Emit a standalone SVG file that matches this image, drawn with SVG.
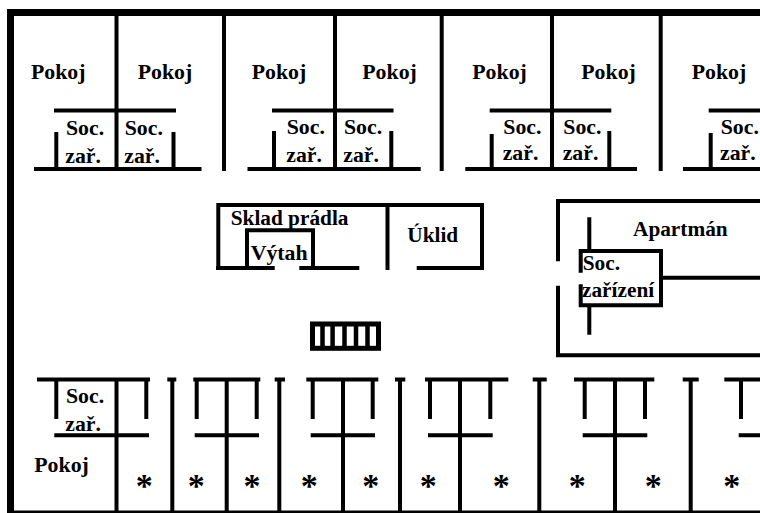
<svg xmlns="http://www.w3.org/2000/svg" width="760" height="513" viewBox="0 0 760 513">
<style>
text{font-family:"Liberation Serif","Times New Roman",serif;font-weight:bold;font-size:21.8px;fill:#000}
.n{font-size:21.300px}
.a{font-size:34px;text-anchor:middle}
path{fill:none;stroke:#000;stroke-width:4}
.o{stroke-width:7}
.b{stroke-width:2.500}
.s{stroke-width:4.500}
</style>
<rect width="760" height="513" fill="#fff"/>
<path class="o" d="M760 12.500H10.500V513"/>
<path class="b" d="M14 511.800H760"/>
<path d="M116.500 16V169M224 16V171M335 16V169M441.700 16V171M552 16V169M660.700 16V171"/>
<path d="M54 110.500H176M272 110.500H393.500M489.700 110.500H611.300M708.700 110.500H760"/>
<path d="M34 169H201.500M247.500 169H420.700M465.300 169H637M683 169H760"/>
<path d="M56.300 132V169M173.500 132V169M274 131V169M391.300 131V169M491.700 134V169M609.300 131V169M710.700 133V169"/>
<path d="M218.300 268V205H482V268M216 268H274.700M299.300 268H359.300M416.700 268H484M387.500 205V270M247 266V230.300H313V266"/>
<rect x="312.500" y="324" width="66" height="24.300" fill="none" stroke="#000" stroke-width="5"/>
<path class="s" d="M322.500 323V349M332.600 323V349M344.500 323V349M356 323V349M367.500 323V349"/>
<path d="M558 261.300V201H760M558 285.700V355.300H760"/>
<path d="M580.700 272.700V251H661V305.300H580.700V284.300M589.300 217.300V250M589.300 307V334.700M663 277.700H760"/>
<path d="M37 379.500H150M193.300 379.500H260.300M306.300 379.500H378.300M425 379.500H508.300M574 379.500H654.300M724.300 379.500H760M167.300 379.500H176.300M274.700 379.500H285M395 379.500H405.300M532.700 379.500H546.700M682.700 379.500H698.700"/>
<path d="M116.500 379V513M172.300 379V513M226.700 379V513M279.300 379V513M343 379V513M400 379V513M460 379V513M539.300 379V513M615 379V513M690.700 379V513"/>
<path d="M56.300 381V419M146.300 381V419M196.700 381V419M256.700 381V419M312.700 381V419M372.700 381V419M430 381V419M490.300 381V419M584.700 381V419M645 381V419M741 381V419"/>
<path d="M54.300 435.300H149M194.700 435.300H259M310.700 435.300H375M428 435.300H492.700M582.700 435.300H647.300M738.700 435.300H760"/>
<g>
<text x="31" y="79">Pokoj</text><text x="137.700" y="79">Pokoj</text><text x="251.700" y="79">Pokoj</text><text x="362.300" y="79">Pokoj</text><text x="472.300" y="78.700">Pokoj</text><text x="581.300" y="78.700">Pokoj</text><text x="691.700" y="79">Pokoj</text>
<text x="66" y="135">Soc.</text><text x="124.700" y="135">Soc.</text><text x="286.700" y="134">Soc.</text><text x="344" y="134">Soc.</text><text x="503.300" y="133.500">Soc.</text><text x="563.300" y="133.500">Soc.</text><text x="720.700" y="133.500">Soc.</text>
<text x="65.300" y="162.700">zař.</text><text x="124.300" y="162.700">zař.</text><text x="286.300" y="161.500">zař.</text><text x="343.300" y="161.500">zař.</text><text x="502.700" y="160">zař.</text><text x="562.700" y="160">zař.</text><text x="720" y="160">zař.</text>
<text class="n" x="230.700" y="225">Sklad prádla</text><text x="250.700" y="260">Výtah</text><text class="n" x="407.300" y="242.300">Úklid</text>
<text class="n" x="633" y="235.700">Apartmán</text><text class="n" x="582.700" y="270.300">Soc.</text><text class="n" x="582" y="297.300">zařízení</text>
<text x="66" y="402.700">Soc.</text><text x="65.300" y="430.700">zař.</text><text x="34.300" y="471.700">Pokoj</text>
<text class="a" x="144.300" y="496.500">*</text><text class="a" x="196.300" y="496.500">*</text><text class="a" x="252" y="496.500">*</text><text class="a" x="309.300" y="496.500">*</text><text class="a" x="370.700" y="496.500">*</text><text class="a" x="428.300" y="496.500">*</text><text class="a" x="501.300" y="496.500">*</text><text class="a" x="577.300" y="496.500">*</text><text class="a" x="653.300" y="496.500">*</text><text class="a" x="731.700" y="496.500">*</text>
</g>
</svg>
